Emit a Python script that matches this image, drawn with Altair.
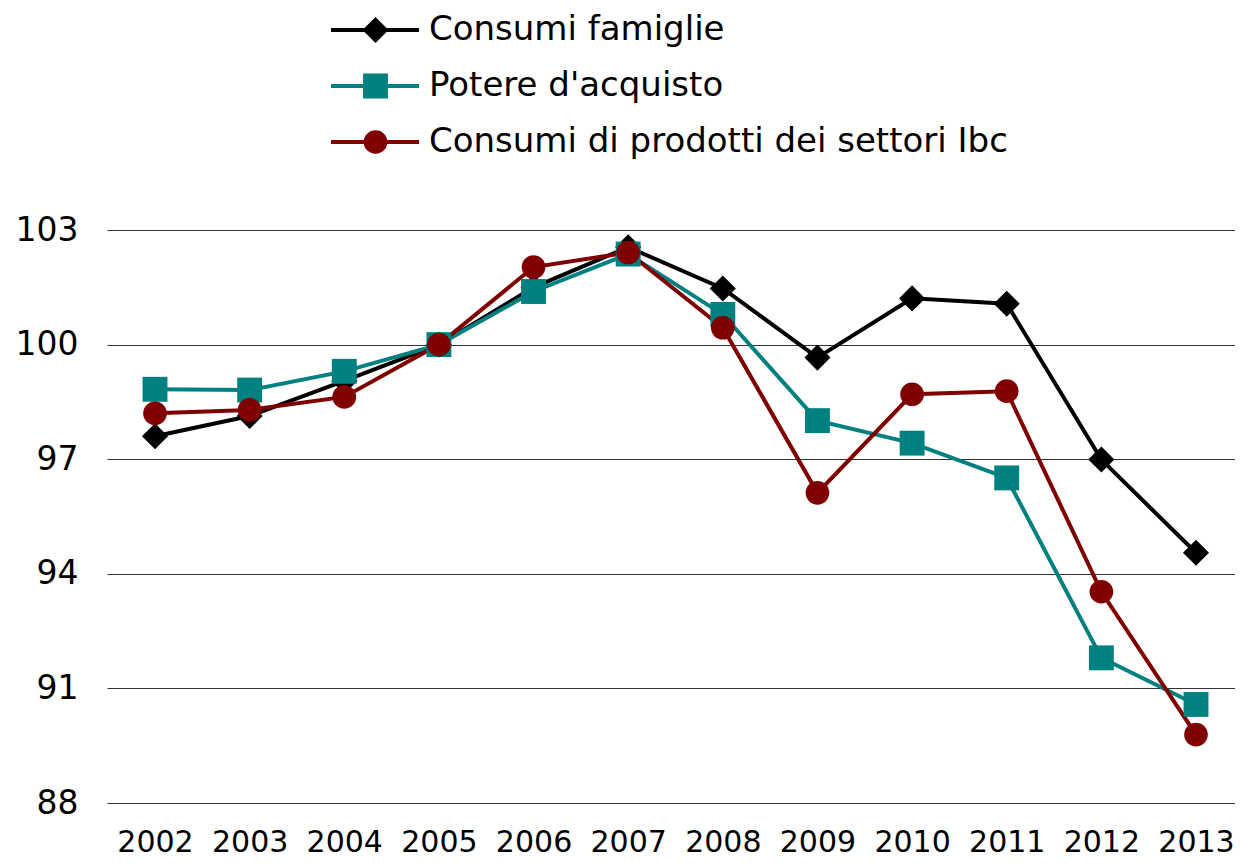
import altair as alt
import pandas as pd

anni = ["2002", "2003", "2004", "2005", "2006", "2007", "2008", "2009", "2010", "2011", "2012", "2013"]
serie_nomi = ["Consumi famiglie", "Potere d'acquisto", "Consumi di prodotti dei settori Ibc"]
consumi_famiglie = [97.60, 98.13, 99.05, 100.0, 101.50, 102.55, 101.47, 99.66, 101.21, 101.07, 96.99, 94.55]
potere_acquisto = [98.83, 98.81, 99.30, 100.0, 101.39, 102.37, 100.79, 98.01, 97.42, 96.51, 91.80, 90.58]
consumi_ibc = [98.20, 98.29, 98.63, 100.0, 102.03, 102.41, 100.44, 96.12, 98.70, 98.78, 93.53, 89.79]
colori = ["#000000", "#008080", "#800000"]
simboli = ["diamond", "square", "circle"]
dimensioni = [680, 560, 600]
codici = ["m1", "m2", "m3"]
y_ticks = [88, 91, 94, 97, 100, 103]

valori = [consumi_famiglie, potere_acquisto, consumi_ibc]
rows = []
for nome, codice, serie in zip(serie_nomi, codici, valori):
    for anno, v in zip(anni, serie):
        rows.append({"anno": anno, "valore": v, "serie": nome, "codice": codice})
df = pd.DataFrame(rows)

FONT = "DejaVu Sans"

x_enc = alt.X(
    "anno:O",
    title=None,
    sort=anni,
    scale=alt.Scale(type="point", padding=0.4597, align=0.5517),
    axis=alt.Axis(labelAngle=0, labelFont=FONT, labelFontSize=30, labelColor="black",
                  labelPadding=24, domain=False, ticks=False, grid=False),
)
y_enc = alt.Y(
    "valore:Q",
    title=None,
    scale=alt.Scale(domain=[88, 103], nice=False, zero=False),
    axis=alt.Axis(values=y_ticks, labelFont=FONT, labelFontSize=33, labelColor="black",
                  labelPadding=29, domain=False, ticks=False, grid=True,
                  gridColor="#333333", gridWidth=1),
)

leg_linee = alt.Legend(
    title=None, orient="none", legendX=222, legendY=-228, direction="vertical",
    symbolType="stroke", symbolSize=7744, symbolStrokeWidth=4,
    clipHeight=56, rowPadding=0, padding=0,
    labelFont=FONT, labelFontSize=34, labelColor="black", labelOffset=8, labelLimit=1000,
)
leg_marker = alt.Legend(
    title=None, orient="none", legendX=222, legendY=-228, direction="vertical",
    symbolStrokeWidth=0, symbolOffset=33, symbolOpacity=1,
    clipHeight=56, rowPadding=0, padding=0,
    labelFontSize=1, labelOpacity=0, zindex=2,
)

base = alt.Chart(df)

linee = base.mark_line(strokeWidth=4).encode(
    x=x_enc,
    y=y_enc,
    color=alt.Color("serie:N", scale=alt.Scale(domain=serie_nomi, range=colori), legend=leg_linee),
)

punti = base.mark_point(filled=True, opacity=1, strokeWidth=0).encode(
    x=x_enc,
    y=y_enc,
    fill=alt.Fill("codice:N", scale=alt.Scale(domain=codici, range=colori), legend=leg_marker),
    shape=alt.Shape("codice:N", scale=alt.Scale(domain=codici, range=simboli), legend=leg_marker),
    size=alt.Size("codice:N", scale=alt.Scale(domain=codici, range=dimensioni), legend=leg_marker),
)

chart = alt.layer(linee, punti).properties(
    width=1128,
    height=573,
    autosize=alt.AutoSizeParams(type="none"),
    padding={"left": 99, "top": 222, "right": 0, "bottom": 56},
).configure_view(stroke=None)

chart.save("out.html", embed_options={"renderer": "svg", "actions": False})
